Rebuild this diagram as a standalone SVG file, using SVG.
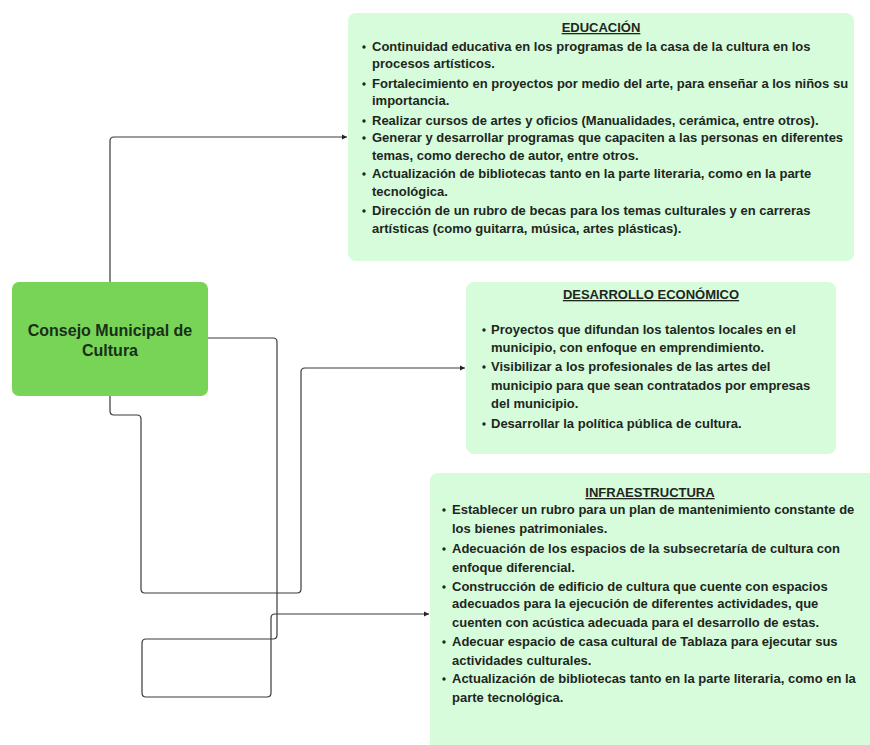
<svg xmlns="http://www.w3.org/2000/svg" width="870" height="745" viewBox="0 0 870 745">
<defs>
<style>
.box{fill:#d6fcdb;}
.main{fill:#77d456;}
.t{font-family:"Liberation Sans",Arial,sans-serif;font-weight:bold;font-size:13px;fill:#1e261e;}
.h{text-anchor:middle;text-decoration:underline;}
.c{font-family:"Liberation Sans",Arial,sans-serif;font-weight:bold;font-size:16px;fill:#183018;text-anchor:middle;}
.conn{fill:none;stroke:#3a3a3a;stroke-width:1.2;}
.b{fill:#1e261e;}
</style>
<marker id="ah" markerWidth="6" markerHeight="6" refX="5" refY="3" orient="auto" markerUnits="userSpaceOnUse">
<path d="M0,0.5 L5,3 L0,5.5 Z" fill="#222"/>
</marker>
</defs>
<rect width="870" height="745" fill="#ffffff"/>

<g id="connectors">
<path class="conn" marker-end="url(#ah)" d="M110,282 V141 Q110,137 114,137 H347"/>
<path class="conn" marker-end="url(#ah)" d="M110,396 V411 Q110,415 114,415 H137 Q141,415 141,419 V589 Q141,593 145,593 H297 Q301,593 301,589 V372 Q301,368 305,368 H465"/>
<path class="conn" marker-end="url(#ah)" d="M208,338 H273 Q277,338 277,342 V635 Q277,639 273,639 H146 Q142,639 142,643 V693 Q142,697 146,697 H267 Q271,697 271,693 V618 Q271,614 275,614 H429"/>
</g>

<g id="consejo">
<rect class="main" x="12" y="282" width="196" height="114" rx="7"/>
<text class="c" x="110" y="336">Consejo Municipal de</text>
<text class="c" x="110" y="356">Cultura</text>
</g>

<g id="educacion">
<rect class="box" x="348" y="13" width="506" height="248" rx="8"/>
<text class="t h" x="601" y="32">EDUCACIÓN</text>
<circle class="b" cx="364" cy="47" r="1.7"/>
<circle class="b" cx="364" cy="84" r="1.7"/>
<circle class="b" cx="364" cy="121" r="1.7"/>
<circle class="b" cx="364" cy="138" r="1.7"/>
<circle class="b" cx="364" cy="174" r="1.7"/>
<circle class="b" cx="364" cy="211" r="1.7"/>
<text class="t" x="372" y="51">Continuidad educativa en los programas de la casa de la cultura en los</text>
<text class="t" x="372" y="68">procesos artísticos.</text>
<text class="t" x="372" y="88">Fortalecimiento en proyectos por medio del arte, para enseñar a los niños su</text>
<text class="t" x="372" y="105">importancia.</text>
<text class="t" x="372" y="125">Realizar cursos de artes y oficios (Manualidades, cerámica, entre otros).</text>
<text class="t" x="372" y="142">Generar y desarrollar programas que capaciten a las personas en diferentes</text>
<text class="t" x="372" y="160">temas, como derecho de autor, entre otros.</text>
<text class="t" x="372" y="178">Actualización de bibliotecas tanto en la parte literaria, como en la parte</text>
<text class="t" x="372" y="196">tecnológica.</text>
<text class="t" x="372" y="215">Dirección de un rubro de becas para los temas culturales y en carreras</text>
<text class="t" x="372" y="233">artísticas (como guitarra, música, artes plásticas).</text>
</g>

<g id="desarrollo">
<rect class="box" x="466" y="282" width="370" height="172" rx="8"/>
<text class="t h" x="651" y="299">DESARROLLO ECONÓMICO</text>
<circle class="b" cx="484" cy="330" r="1.7"/>
<circle class="b" cx="484" cy="367" r="1.7"/>
<circle class="b" cx="484" cy="424" r="1.7"/>
<text class="t" x="491" y="334">Proyectos que difundan los talentos locales en el</text>
<text class="t" x="491" y="352">municipio, con enfoque en emprendimiento.</text>
<text class="t" x="491" y="371">Visibilizar a los profesionales de las artes del</text>
<text class="t" x="491" y="390">municipio para que sean contratados por empresas</text>
<text class="t" x="491" y="408">del municipio.</text>
<text class="t" x="491" y="428">Desarrollar la política pública de cultura.</text>
</g>

<g id="infraestructura">
<rect class="box" x="430" y="473" width="450" height="290" rx="8"/>
<text class="t h" x="650" y="497">INFRAESTRUCTURA</text>
<circle class="b" cx="444" cy="510" r="1.7"/>
<circle class="b" cx="444" cy="549" r="1.7"/>
<circle class="b" cx="444" cy="587" r="1.7"/>
<circle class="b" cx="444" cy="642" r="1.7"/>
<circle class="b" cx="444" cy="679" r="1.7"/>
<text class="t" x="452" y="514">Establecer un rubro para un plan de mantenimiento constante de</text>
<text class="t" x="452" y="533">los bienes patrimoniales.</text>
<text class="t" x="452" y="553">Adecuación de los espacios de la subsecretaría de cultura con</text>
<text class="t" x="452" y="572">enfoque diferencial.</text>
<text class="t" x="452" y="591">Construcción de edificio de cultura que cuente con espacios</text>
<text class="t" x="452" y="608">adecuados para la ejecución de diferentes actividades, que</text>
<text class="t" x="452" y="627">cuenten con acústica adecuada para el desarrollo de estas.</text>
<text class="t" x="452" y="646">Adecuar espacio de casa cultural de Tablaza para ejecutar sus</text>
<text class="t" x="452" y="665">actividades culturales.</text>
<text class="t" x="452" y="683">Actualización de bibliotecas tanto en la parte literaria, como en la</text>
<text class="t" x="452" y="702">parte tecnológica.</text>
</g>
</svg>
